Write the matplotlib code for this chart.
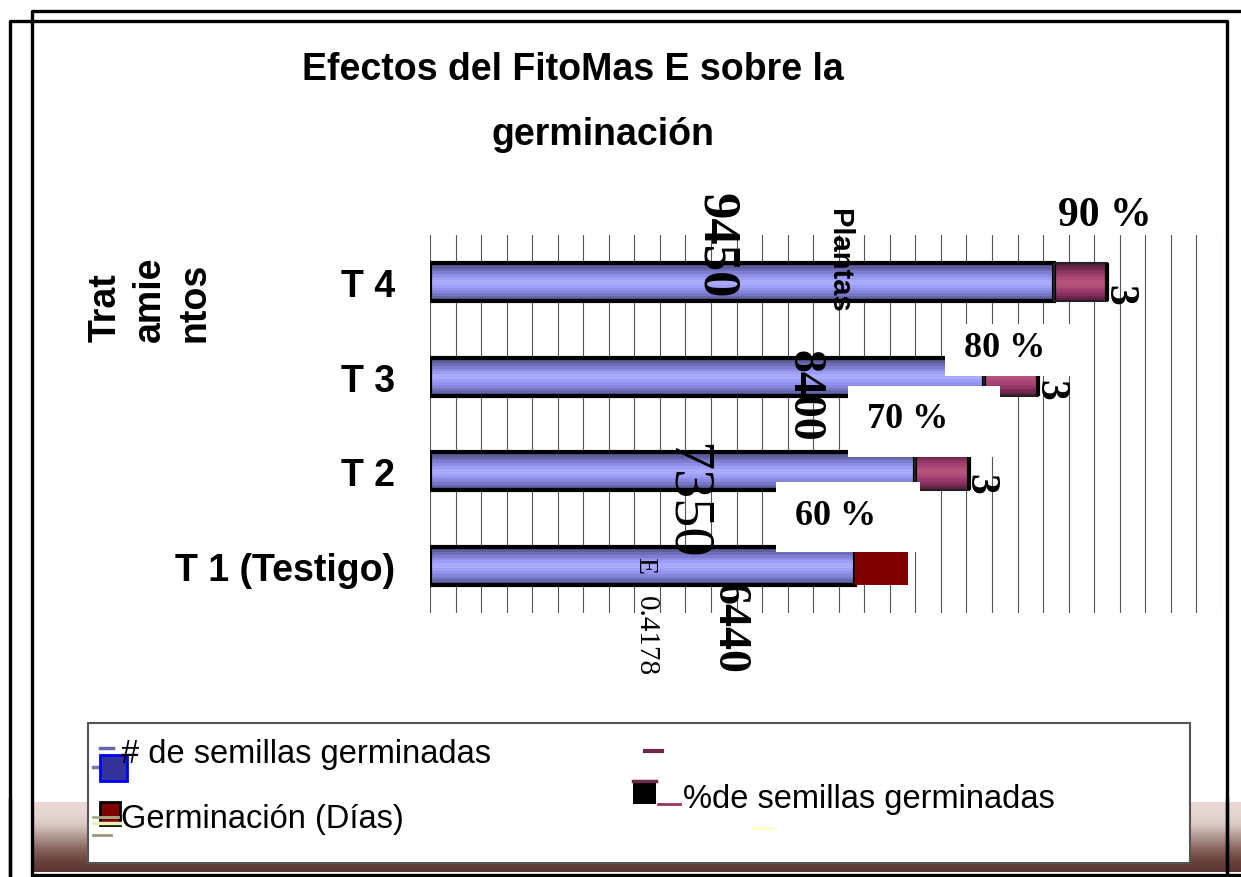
import numpy as np
import matplotlib
matplotlib.use('Agg')
import matplotlib.pyplot as plt
from matplotlib.colors import LinearSegmentedColormap
from matplotlib.patches import Rectangle
from matplotlib.font_manager import FontProperties
from matplotlib.transforms import offset_copy

# datos del grafico
tratamientos = ['T 1 (Testigo)', 'T 2', 'T 3', 'T 4']
semillas = [6440, 7350, 8400, 9450]      # de semillas germinadas
dias = [3, 3, 3, 3]                      # germinacion (dias)
porcentaje = ['60 %', '70 %', '80 %', '90 %']

W, H = 1241, 878
SANS = 'Liberation Sans'
SERIF = 'Liberation Serif'

fig = plt.figure(figsize=(W / 100, H / 100), dpi=100)
fig.patch.set_facecolor('white')

# main bar axes
ax = fig.add_axes([430 / W, (H - 614) / H, 792 / W, 378 / H], zorder=1)
ax.patch.set_alpha(0)
ax.set_xlim(0, 12001)
ax.set_ylim(-0.5, 3.5)
for s in ax.spines.values():
    s.set_visible(False)
ax.set_xticks(np.linspace(0, 12000, 32))
ax.grid(axis='x', color='#555555', lw=0.8)
ax.set_axisbelow(True)
ax.tick_params(length=0, labelbottom=False, pad=25)
ax.set_yticks(range(len(tratamientos)))
ax.set_yticklabels(tratamientos, fontsize=27, fontweight='bold', family=SANS)

y = np.arange(len(tratamientos))
alto = 0.40
n = 14
azul = LinearSegmentedColormap.from_list('az', ['#55558f', '#7a7acc', '#9898f4', '#b0b0ff', '#9494f0', '#7070bb', '#52528a'])
rojo = LinearSegmentedColormap.from_list('ro', ['#5e2040', '#8a3060', '#a84474', '#b8587f', '#a84474', '#803058', '#5a1e3c'])
escala = 270  # ancho por dia

for j in range(n):
    off = -alto / 2 + alto * (j + 0.5) / n
    ax.barh(y + off, semillas, height=alto / n, color=azul(j / (n - 1)), lw=0, zorder=2)
    ax.barh(y[1:] + off, np.array(dias[1:]) * escala, left=semillas[1:], height=alto / n,
            color=rojo(j / (n - 1)), lw=0, zorder=2)
ax.barh(y, semillas, height=alto, fill=False, edgecolor='black', lw=3, zorder=3)
ax.barh(y[0], dias[0] * escala, left=semillas[0], height=alto, color='#800000', lw=0, zorder=3)
ax.barh(y[1:], np.array(dias[1:]) * escala, left=semillas[1:], height=alto, fill=False,
        edgecolor='#222222', lw=1.5, zorder=3)
# thick black end of the stacked segment
ax.vlines(np.array(semillas[1:]) + np.array(dias[1:]) * escala, y[1:] - alto / 2, y[1:] + alto / 2,
          color='black', lw=3, zorder=4)

fp3 = FontProperties(family=SERIF, weight='bold', size=30)
tr3 = offset_copy(ax.transData, fig=fig, x=8, y=-9, units='points')
for i in range(1, len(y)):
    ax.text(semillas[i] + dias[i] * escala, y[i], str(dias[i]), transform=tr3,
            rotation=-90, ha='center', va='center', fontproperties=fp3, zorder=6)

# overlay in pixel coordinates for decoration and labels
ov = fig.add_axes([0, 0, 1, 1], zorder=2)
ov.patch.set_alpha(0)
ov.set_xlim(0, W)
ov.set_ylim(H, 0)
ov.axis('off')

# frames
ov.plot([32, 32, W], [H, 12, 12], color='black', lw=2.4, solid_capstyle='butt')
ov.plot([10, 10, 1227, 1227], [H, 22, 22, H], color='black', lw=2.4, solid_capstyle='butt')

# bottom gradient band
grad = LinearSegmentedColormap.from_list('gr', ['#ecd8d4', '#e6d6d2', '#d8c6c0', '#b09690', '#8a6660', '#6a4540', '#5a3530'])
band = np.linspace(0, 1, 70).reshape(-1, 1)
ov.imshow(band, cmap=grad, extent=[33, W, 873, 803], aspect='auto', zorder=1)
ov.plot([33, W], [876, 876], color='black', lw=2.4, zorder=2)
ov.plot([10, 10], [800, H], color='black', lw=2.4, zorder=2)
ov.plot([1227, 1227], [800, H], color='black', lw=2.4, zorder=2)

# title
ov.text(573, 70, 'Efectos del FitoMas E sobre la', ha='center', va='center',
        fontsize=27, fontweight='bold', family=SANS)
ov.text(603, 135, 'germinación', ha='center', va='center',
        fontsize=27, fontweight='bold', family=SANS)

# axis title
ov.text(150, 342, 'Trat\namie\nntos', rotation=90, ha='center', va='bottom',
        multialignment='left', fontsize=27, fontweight='bold', family=SANS, linespacing=1.3)

# white label boxes with percentages
cajas = [(776, 483, 144, 70), (848, 387, 152, 71), (945, 325, 142, 52)]
for (x0, y0, w, h) in cajas:
    ov.add_patch(Rectangle((x0, y0), w, h, facecolor='white', edgecolor='none', zorder=3))
pos_pct = [(836, 517, 26), (908, 420, 26), (1005, 349, 26), (1105, 216, 30)]
for lab, (px, py, fs) in zip(porcentaje, pos_pct):
    ov.text(px, py, lab, ha='center', va='center', fontsize=fs, fontweight='bold',
            family=SERIF, zorder=5)

# stray rotated value labels
ov.text(716, 246, str(semillas[3]), rotation=-90, ha='center', va='center',
        fontsize=38, fontweight='bold', family=SERIF, zorder=5)
ov.text(804, 396, str(semillas[2]), rotation=-90, ha='center', va='center',
        fontsize=33, fontweight='bold', family=SERIF, zorder=5)
ov.text(686, 501, str(semillas[1]), rotation=-90, ha='center', va='center',
        fontsize=42, family=SERIF, zorder=5)
ov.text(728, 628, str(semillas[0]), rotation=-90, ha='center', va='center',
        fontsize=33, fontweight='bold', family=SERIF, zorder=5)
ov.text(645, 566, 'E', rotation=-90, ha='center', va='center',
        fontsize=20, family=SERIF, zorder=5)
ov.text(646, 636, '0.4178', rotation=-90, ha='center', va='center',
        fontsize=21, family=SERIF, zorder=5)
ov.text(839, 261, 'Plantas', rotation=-90, ha='center', va='center',
        fontsize=21, fontweight='bold', family=SANS, zorder=5)

# legend box
ov.add_patch(Rectangle((88, 724), 1102, 140, facecolor='white', edgecolor='#555555', lw=1.5, zorder=3))
ov.plot([100, 113], [749, 749], color='#6666aa', lw=2.5, zorder=4)
ov.plot([93, 101], [768, 768], color='#7777aa', lw=2.5, zorder=4)
ov.add_patch(Rectangle((100, 756), 27, 26, facecolor='#333399', edgecolor='#0000ff', lw=2, zorder=4))
ov.text(121, 755, '# de semillas germinadas', ha='left', va='center', fontsize=23.5, family=SANS, zorder=5)

ov.add_patch(Rectangle((100, 803), 20, 23, facecolor='#800000', edgecolor='black', lw=2, zorder=4))
ov.plot([93, 118], [818, 818], color='#aaaa88', lw=2, zorder=4)
ov.plot([93, 120], [824, 824], color='#eeeebb', lw=2.5, zorder=4)
ov.plot([93, 111], [836, 836], color='#999977', lw=2, zorder=4)
ov.text(121, 820, 'Germinación (Días)', ha='left', va='center', fontsize=23.5, family=SANS, zorder=5)

ov.plot([645, 662], [752, 752], color='#6b2a4a', lw=3, zorder=4)
ov.add_patch(Rectangle((633, 782), 23, 23, facecolor='black', edgecolor='none', zorder=4))
ov.plot([633, 656], [782, 782], color='#6b2a4a', lw=2.5, zorder=5)
ov.plot([658, 680], [805, 805], color='#993366', lw=2, zorder=4)
ov.text(683, 800, '%de semillas germinadas', ha='left', va='center', fontsize=23.5, family=SANS, zorder=5)
ov.plot([753, 773], [829, 829], color='#ffffcc', lw=2.5, zorder=4)

fig.savefig('out.png', dpi=100)
